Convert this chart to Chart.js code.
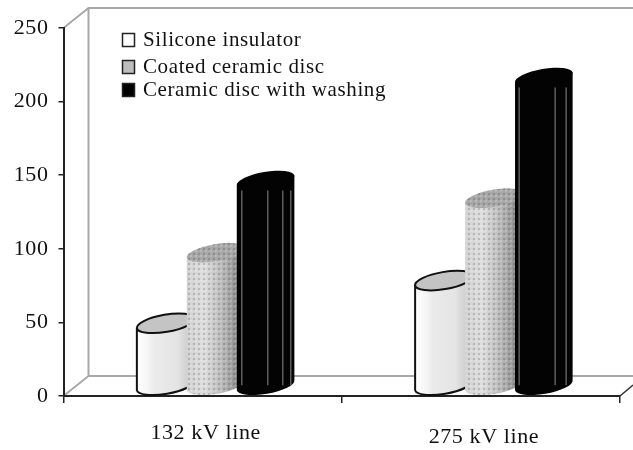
<!DOCTYPE html>
<html>
<head>
<meta charset="utf-8">
<style>
  html, body { margin: 0; padding: 0; background: #fff; }
  #chart { display: block; filter: blur(0.5px); }
</style>
<script src="https://cdn.jsdelivr.net/npm/chart.js@4"></script>
</head>
<body>
<canvas id="chart" width="633" height="450"></canvas>
<script>
// Values
const categories = ['132 kV line', '275 kV line'];
const siliconeValues = [46, 75];
const coatedValues = [94, 131];
const washingValues = [143, 213];
const yTicks = [0, 50, 100, 150, 200, 250];
const seriesNames = ['Silicone insulator', 'Coated ceramic disc', 'Ceramic disc with washing'];

const FONT = '"Liberation Serif", "Times New Roman", serif';
const TEXT = '#111';
const DEPTH_X = 25, DEPTH_Y = 20;
const TILT = -0.17, CAP_RY = 8.6, SHIFT_X = 13;
const legendRows = [40, 67, 90];
const legendFill = ['#ffffff', '#bdbdbd', '#000000'];
const blackSheen = [[5, 31, 46, 54], [4, 40, 51]];

// Stippled fill used by the middle series
function dotPattern(ctx) {
    const c = document.createElement('canvas');
    c.width = c.height = 5;
    const p = c.getContext('2d');
    p.fillStyle = 'rgba(255,255,255,0.2)';
    p.fillRect(0, 0, 2, 2);
    p.fillStyle = 'rgba(0,0,0,0.16)';
    p.fillRect(3, 3, 2, 2);
    return ctx.createPattern(c, 'repeat');
}

function bodyGradient(ctx, left, right, stops) {
    const g = ctx.createLinearGradient(left, 0, right, 0);
    stops.forEach(([at, color]) => g.addColorStop(at, color));
    return g;
}

function cylinderPath(ctx, x, rx, top, base) {
    const dx = rx * Math.cos(TILT), dy = -rx * Math.sin(TILT);
    ctx.beginPath();
    ctx.moveTo(x - dx, top);
    ctx.lineTo(x - dx, base - 10 + dy);
    ctx.ellipse(x, base - 10, rx, CAP_RY, TILT, Math.PI, 0, true);
    ctx.lineTo(x + dx, top - 2 * dy);
    ctx.closePath();
}

function capPath(ctx, x, rx, top) {
    ctx.beginPath();
    ctx.ellipse(x, top - 5, rx, CAP_RY, TILT, 0, Math.PI * 2);
    ctx.closePath();
}

function drawCylinder(ctx, bar, datasetIndex, index) {
    const rx = bar.width / 2;
    const x = bar.x + SHIFT_X;
    const left = x - rx, right = x + rx;
    ctx.save();
    cylinderPath(ctx, x, rx, bar.y, bar.base);
    if (datasetIndex === 0) {
        ctx.fillStyle = bodyGradient(ctx, left, right, [[0, '#ffffff'], [0.2, '#f5f5f5'], [0.3, '#ebebeb'], [0.7, '#e4e4e4'], [0.85, '#d2d2d2'], [1, '#b8b8b8']]);
        ctx.fill();
        ctx.strokeStyle = '#111';
        ctx.lineWidth = 2;
        ctx.stroke();
        capPath(ctx, x, rx, bar.y);
        ctx.fillStyle = '#c4c4c4';
        ctx.fill();
        ctx.stroke();
    } else if (datasetIndex === 1) {
        const pattern = dotPattern(ctx);
        ctx.fillStyle = bodyGradient(ctx, left, right, [[0, '#d2d2d2'], [0.3, '#dedede'], [0.6, '#bcbcbc'], [0.85, '#959595'], [1, '#7a7a7a']]);
        ctx.fill();
        ctx.fillStyle = pattern;
        ctx.fill();
        capPath(ctx, x, rx, bar.y);
        ctx.fillStyle = '#a8a8a8';
        ctx.fill();
        ctx.fillStyle = pattern;
        ctx.fill();
    } else {
        ctx.fillStyle = '#030303';
        ctx.fill();
        capPath(ctx, x, rx, bar.y);
        ctx.fill();
        ctx.strokeStyle = '#8c8c8c';
        ctx.lineWidth = 1;
        blackSheen[index].forEach(off => {
            ctx.beginPath();
            ctx.moveTo(left + off + 0.5, bar.y + 5);
            ctx.lineTo(left + off + 0.5, bar.base - 10);
            ctx.stroke();
        });
    }
    ctx.restore();
}

// Back walls of the 3D box, tied to the axis pixels
const wallPlugin = {
    id: 'wall',
    beforeDraw(chart) {
        const { ctx, scales: { x, y } } = chart;
        const x0 = x.left, x1 = x.right;
        const y0 = y.getPixelForValue(0), y1 = y.getPixelForValue(250);
        ctx.letterSpacing = '0.6px';
        ctx.save();
        ctx.strokeStyle = '#a8a8a8';
        ctx.lineWidth = 2;
        ctx.beginPath();
        ctx.moveTo(x0, y1);
        ctx.lineTo(x0 + DEPTH_X, y1 - DEPTH_Y);
        ctx.lineTo(chart.width, y1 - DEPTH_Y);
        ctx.moveTo(x0 + DEPTH_X, y1 - DEPTH_Y);
        ctx.lineTo(x0 + DEPTH_X, y0 - DEPTH_Y);
        ctx.lineTo(chart.width, y0 - DEPTH_Y);
        ctx.moveTo(x0, y0);
        ctx.lineTo(x0 + DEPTH_X, y0 - DEPTH_Y);
        ctx.stroke();
        ctx.strokeStyle = '#333';
        ctx.lineWidth = 1.5;
        ctx.beginPath();
        ctx.moveTo(x1, y0);
        ctx.lineTo(chart.width, y0 - 11);
        ctx.stroke();
        ctx.restore();
    },
    afterDatasetsDraw(chart) {
        // dataset order, so each cylinder hides part of the one before it
        chart.data.datasets.forEach((ds, d) => {
            chart.getDatasetMeta(d).data.forEach((bar, i) => drawCylinder(chart.ctx, bar, d, i));
        });
    },
    afterDraw(chart) {
        const { ctx } = chart;
        ctx.save();
        ctx.font = '21px ' + FONT;
        ctx.textBaseline = 'middle';
        chart.data.datasets.forEach((ds, i) => {
            ctx.fillStyle = legendFill[i];
            ctx.strokeStyle = '#222';
            ctx.lineWidth = 1.5;
            ctx.fillRect(122.5, legendRows[i] - 6.5, 12, 13);
            ctx.strokeRect(122.5, legendRows[i] - 6.5, 12, 13);
            ctx.fillStyle = TEXT;
            ctx.fillText(ds.label, 143, legendRows[i]);
        });
        ctx.restore();
    }
};

function makeDataset(i, data) {
    return {
        label: seriesNames[i],
        data: data,
        backgroundColor: 'rgba(0,0,0,0)',
        borderWidth: 0,
        categoryPercentage: 0.5386,
        barPercentage: 1.17
    };
}

new Chart(document.getElementById('chart').getContext('2d'), {
    type: 'bar',
    plugins: [wallPlugin],
    data: {
        labels: categories,
        datasets: [makeDataset(0, siliconeValues), makeDataset(1, coatedValues), makeDataset(2, washingValues)]
    },
    options: {
        responsive: false,
        animation: false,
        layout: { padding: { top: 28, right: 13, left: 0, bottom: 0 } },
        plugins: { legend: { display: false }, tooltip: { enabled: false } },
        scales: {
            x: {
                afterFit: s => { s.height = 54; },
                border: { display: true, color: '#222', width: 2 },
                grid: { drawOnChartArea: false, drawTicks: true, tickLength: 7, color: '#222', lineWidth: 1.5 },
                ticks: {
                    color: TEXT,
                    padding: 19,
                    labelOffset: 3,
                    maxRotation: 0,
                    // second label sits a little lower in the original
                    font: c => ({ family: FONT, size: 22, lineHeight: c.index === 1 ? 1.4 : 1 })
                }
            },
            y: {
                min: 0,
                max: 250,
                afterFit: s => { s.width = 63.5; },
                afterBuildTicks: s => { s.ticks = yTicks.map(v => ({ value: v })); },
                border: { display: true, color: '#222', width: 2 },
                grid: { drawOnChartArea: false, drawTicks: true, tickLength: 5, color: '#222', lineWidth: 1.5 },
                ticks: { color: TEXT, padding: 10, font: { family: FONT, size: 22 } }
            }
        }
    }
});
</script>
</body>
</html>
